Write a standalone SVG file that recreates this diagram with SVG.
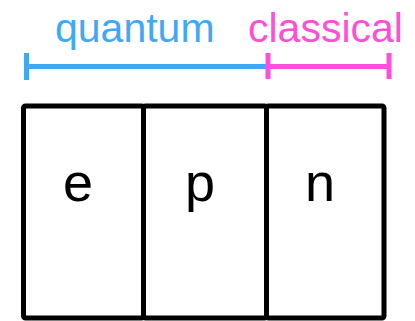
<svg xmlns="http://www.w3.org/2000/svg" width="415" height="321" viewBox="0 0 415 321">
<style>
.lbl{font-family:"Liberation Sans",Arial,sans-serif;font-size:41px}
.q{fill:#3fa9f5}
.c{fill:#ff4fd8}
.cell{fill:#fff;stroke:#000;stroke-width:5}
.let{font-family:"Liberation Sans",Arial,sans-serif;font-size:54px;fill:#000;text-anchor:middle}
.qb{stroke:#3fa9f5;stroke-width:5;fill:none}
.cb{stroke:#ff4fd8;stroke-width:5;fill:none}
</style>
<rect width="415" height="321" fill="#fff"/>
<g id="labels">
<text class="lbl q" x="55" y="42">quantum</text>
<text class="lbl c" x="248" y="42">classical</text>
</g>
<g id="connectors">
<path class="qb" d="M26.5,53V80M26.5,66.5H268"/>
<path class="cb" d="M268,53V79M268,66.5H389M389,53V79"/>
</g>
<g id="cell-e">
<rect class="cell" x="23.5" y="106" width="120" height="212" rx="2"/>
<text class="let" x="78" y="201">e</text>
</g>
<g id="cell-p">
<rect class="cell" x="143.5" y="106" width="123" height="212" rx="2"/>
<text class="let" x="200" y="201">p</text>
</g>
<g id="cell-n">
<rect class="cell" x="266.5" y="106" width="117.5" height="212" rx="2"/>
<text class="let" x="320" y="201">n</text>
</g>
</svg>
